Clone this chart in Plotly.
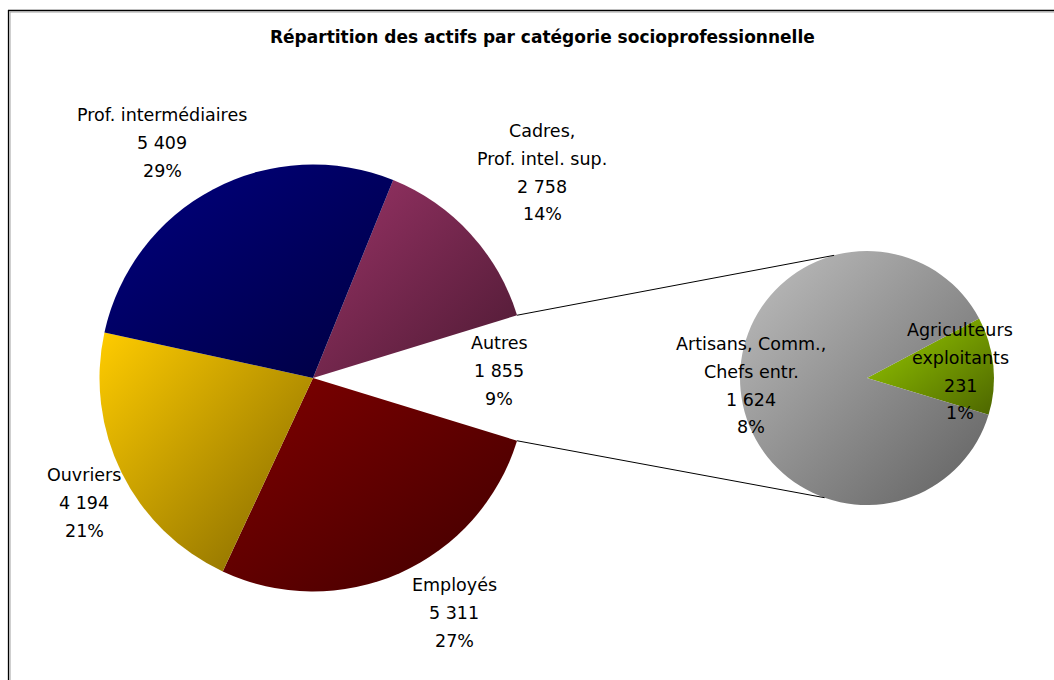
import math
import plotly.graph_objects as go

# ---------------- data ----------------
main_labels = ["Cadres,<br>Prof. intel. sup.", "Autres", "Employés", "Ouvriers", "Prof. intermédiaires"]
main_values = [2758, 1855, 5311, 4194, 5409]
main_pcts = ["14%", "9%", "27%", "21%", "29%"]

sub_labels = ["Agriculteurs<br>exploitants", "Artisans, Comm.,<br>Chefs entr."]
sub_values = [231, 1624]
sub_pcts = ["1%", "8%"]

title_text = "Répartition des actifs par catégorie socioprofessionnelle"

# ---------------- style / layout ----------------
W, H = 1054, 680
main_c, main_r = (313, 378), 213.5
sub_c, sub_r = (867, 378), 127
main_colors = ["#993366", "rgba(0,0,0,0)", "#800000", "#FFCC00", "#000080"]
sub_colors = ["#99CC00", "#C0C0C0"]
sub_rotation = 62
sub_link_angles = (345.0, 199.5)  # where connector lines meet the secondary pie

# label anchor positions (pixels, centre of first line)
main_label_pos = [(542, 131), (499, 343), (454, 585), (84, 475), (162, 115)]
sub_label_pos = [(960, 330), (751, 344)]
line_gap = 27.8
FONT = "DejaVu Sans"


def px(x):
    return x / W


def py(y):
    return 1 - y / H


def domain(c, r):
    return dict(x=[px(c[0] - r), px(c[0] + r)], y=[py(c[1] + r), py(c[1] - r)])


def pt(c, r, ang):
    a = math.radians(ang)
    return c[0] + r * math.sin(a), c[1] - r * math.cos(a)


total_main = sum(main_values)
deg = [v / total_main * 360 for v in main_values]
autres_idx = 1
# Excel pie-of-pie: split slice centred on the right (90 deg)
autres_start = 90 - deg[autres_idx] / 2
rotation = autres_start - sum(deg[:autres_idx])
autres_end = autres_start + deg[autres_idx]

fig = go.Figure()
fig.add_trace(go.Pie(
    labels=[l.replace("<br>", " ") for l in main_labels], values=main_values,
    sort=False, direction="clockwise", rotation=rotation,
    marker=dict(colors=main_colors, line=dict(width=0)),
    textinfo="none", hoverinfo="label+value", domain=domain(main_c, main_r),
    showlegend=False,
))
fig.add_trace(go.Pie(
    labels=[l.replace("<br>", " ") for l in sub_labels], values=sub_values,
    sort=False, direction="clockwise", rotation=sub_rotation,
    marker=dict(colors=sub_colors, line=dict(width=0)),
    textinfo="none", hoverinfo="label+value", domain=domain(sub_c, sub_r),
    showlegend=False,
))

shapes = []
# connector lines
p1 = pt(main_c, main_r, autres_start)
p2 = pt(sub_c, sub_r, sub_link_angles[0])
p3 = pt(main_c, main_r, autres_end)
p4 = pt(sub_c, sub_r, sub_link_angles[1])
for a, b in [(p1, p2), (p3, p4)]:
    shapes.append(dict(type="line", xref="paper", yref="paper",
                       x0=px(a[0]), y0=py(a[1]), x1=px(b[0]), y1=py(b[1]),
                       line=dict(color="black", width=1)))
# chart frame (top + left edges)
shapes.append(dict(type="line", xref="paper", yref="paper", x0=px(8), y0=py(10.5), x1=1.01, y1=py(10.5),
                   line=dict(color="black", width=1.3)))
shapes.append(dict(type="line", xref="paper", yref="paper", x0=px(8.5), y0=py(10), x1=px(8.5), y1=-0.01,
                   line=dict(color="black", width=1.3)))
shapes.append(dict(type="line", xref="paper", yref="paper", x0=px(10), y0=py(12), x1=1.01, y1=py(12),
                   line=dict(color="#A0A0A0", width=1)))
shapes.append(dict(type="line", xref="paper", yref="paper", x0=px(10), y0=py(12), x1=px(10), y1=-0.01,
                   line=dict(color="#A0A0A0", width=1)))

annotations = []


def add_label(name, value, pct, pos):
    lines = name.split("<br>") + [f"{value:,}".replace(",", " "), pct]
    for i, t in enumerate(lines):
        annotations.append(dict(text=t, xref="paper", yref="paper",
                                x=px(pos[0]), y=py(pos[1] + i * line_gap),
                                xanchor="center", yanchor="middle", showarrow=False,
                                font=dict(family=FONT, size=17.5, color="black")))


for n, v, p, pos in zip(main_labels, main_values, main_pcts, main_label_pos):
    add_label(n, v, p, pos)
for n, v, p, pos in zip(sub_labels, sub_values, sub_pcts, sub_label_pos):
    add_label(n, v, p, pos)

annotations.append(dict(text="<b>" + title_text + "</b>", xref="paper", yref="paper",
                        x=px(542.5), y=py(37), xanchor="center", yanchor="middle", showarrow=False,
                        font=dict(family=FONT, size=17, color="black")))

fig.update_layout(
    width=W, height=H, margin=dict(l=0, r=0, t=0, b=0),
    paper_bgcolor="white", plot_bgcolor="white",
    shapes=shapes, annotations=annotations, showlegend=False,
)

post = """
(function(){
document.body.style.margin = '0';
document.body.style.padding = '0';
var gd = document.getElementById('{plot_id}');
function shade(){
  var ns = 'http://www.w3.org/2000/svg';
  var svg = gd.querySelector('svg.main-svg');
  var defs = svg.querySelector('defs');
  if(!defs){ defs = document.createElementNS(ns, 'defs'); svg.insertBefore(defs, svg.firstChild); }
  var traces = gd.querySelectorAll('.pielayer .trace');
  traces.forEach(function(tr, ti){
    tr.querySelectorAll('path.surface').forEach(function(p, si){
      var fo = p.style.fillOpacity;
      if(fo !== '' && parseFloat(fo) === 0) return;
      var f = p.style.fill;
      var m = f.match(/\\d+(\\.\\d+)?/g);
      if(!m) return;
      var r = +m[0], g = +m[1], b = +m[2];
      if(m.length > 3 && parseFloat(m[3]) === 0) return;
      var k = 0.5;
      var id = 'shade_' + ti + '_' + si;
      var lg = document.createElementNS(ns, 'linearGradient');
      lg.setAttribute('id', id);
      lg.setAttribute('x1', '0'); lg.setAttribute('y1', '0');
      lg.setAttribute('x2', '1'); lg.setAttribute('y2', '1');
      var s0 = document.createElementNS(ns, 'stop');
      s0.setAttribute('offset', '0'); s0.setAttribute('stop-color', 'rgb(' + r + ',' + g + ',' + b + ')');
      var s1 = document.createElementNS(ns, 'stop');
      s1.setAttribute('offset', '1');
      s1.setAttribute('stop-color', 'rgb(' + Math.round(r*k) + ',' + Math.round(g*k) + ',' + Math.round(b*k) + ')');
      lg.appendChild(s0); lg.appendChild(s1);
      defs.appendChild(lg);
      p.style.fill = 'url(#' + id + ')';
    });
  });
}
shade();
})();
"""

fig.write_html("out.html", post_script=post, config={"displayModeBar": False})
